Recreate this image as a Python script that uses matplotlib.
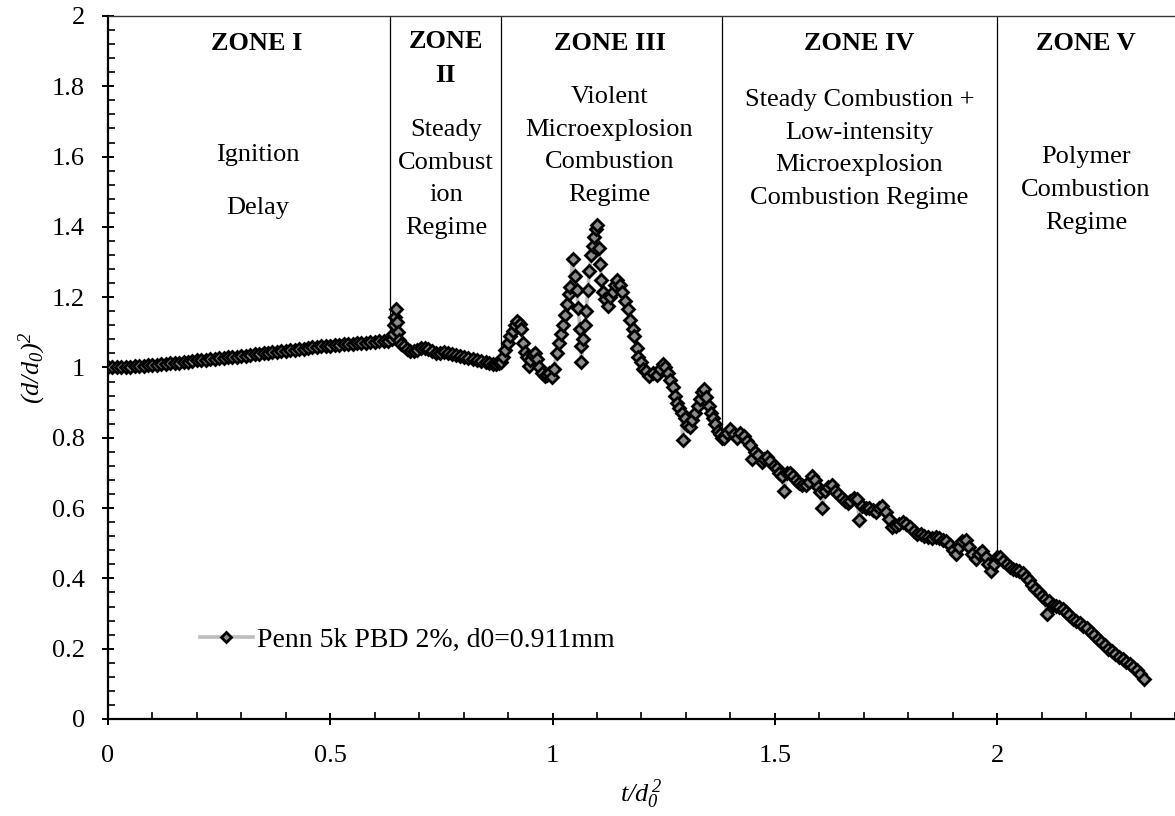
# Droplet diameter history, Penn 5k PBD 2% -- combustion zones I..V
import matplotlib.pyplot as plt
from matplotlib.ticker import FuncFormatter, MultipleLocator

# ── Data ─────────────────────────────────────────────────────────────────────
# Zone I: ignition delay, slow swelling of the droplet
t_zone1 = [
    0.00, 0.01, 0.02, 0.03, 0.04, 0.05, 0.06, 0.07, 0.08, 0.09,
    0.10, 0.11, 0.12, 0.13, 0.14, 0.15, 0.16, 0.17, 0.18, 0.19,
    0.20, 0.21, 0.22, 0.23, 0.24, 0.25, 0.26, 0.27, 0.28, 0.29,
    0.30, 0.31, 0.32, 0.33, 0.34, 0.35, 0.36, 0.37, 0.38, 0.39,
    0.40, 0.41, 0.42, 0.43, 0.44, 0.45, 0.46, 0.47, 0.48, 0.49,
    0.50, 0.51, 0.52, 0.53, 0.54, 0.55, 0.56, 0.57, 0.58, 0.59,
    0.60, 0.61, 0.62, 0.63,
]
d2_zone1 = [
    1.000, 1.000, 1.001, 1.001, 1.002, 1.002, 1.003, 1.004, 1.005, 1.006,
    1.007, 1.008, 1.009, 1.010, 1.012, 1.013, 1.014, 1.016, 1.017, 1.018,
    1.020, 1.021, 1.022, 1.024, 1.025, 1.026, 1.027, 1.029, 1.030, 1.031,
    1.033, 1.034, 1.036, 1.037, 1.039, 1.040, 1.042, 1.043, 1.045, 1.046,
    1.048, 1.049, 1.051, 1.052, 1.054, 1.055, 1.057, 1.058, 1.060, 1.061,
    1.062, 1.064, 1.065, 1.066, 1.067, 1.068, 1.069, 1.070, 1.071, 1.072,
    1.073, 1.074, 1.075, 1.076,
]

# Zone II: steady combustion
t_zone2 = [
    0.638, 0.642, 0.644, 0.646, 0.648, 0.650, 0.652, 0.655, 0.660, 0.666,
    0.672, 0.680, 0.688, 0.696, 0.704, 0.712, 0.720, 0.728, 0.737, 0.746,
    0.755, 0.764, 0.773, 0.782, 0.791, 0.800, 0.810, 0.820, 0.830, 0.840,
    0.850, 0.858, 0.866, 0.873, 0.880,
]
d2_zone2 = [
    1.080, 1.095, 1.120, 1.145, 1.165, 1.130, 1.100, 1.078, 1.068, 1.060,
    1.054, 1.048, 1.046, 1.050, 1.055, 1.056, 1.052, 1.046, 1.042, 1.040,
    1.043, 1.041, 1.038, 1.036, 1.034, 1.031, 1.028, 1.025, 1.021, 1.018,
    1.015, 1.012, 1.010, 1.010, 1.013,
]

# Zone III: violent microexplosion
t_zone3 = [
    0.884, 0.889, 0.894, 0.899, 0.904, 0.910, 0.916, 0.921, 0.926, 0.930,
    0.933, 0.937, 0.942, 0.946, 0.950, 0.955, 0.960, 0.965, 0.970, 0.976,
    0.982, 0.988, 0.993, 0.998, 1.003, 1.009, 1.014, 1.019, 1.024, 1.028,
    1.032, 1.036, 1.040, 1.045, 1.050, 1.054, 1.058, 1.061, 1.063, 1.065,
    1.068, 1.072, 1.076, 1.079, 1.083, 1.087, 1.090, 1.094, 1.098, 1.101,
    1.104, 1.107, 1.110, 1.114, 1.119, 1.124, 1.130, 1.135, 1.141, 1.146,
    1.151, 1.157, 1.163, 1.169, 1.175, 1.180, 1.184, 1.189, 1.193, 1.198,
    1.204, 1.211, 1.218, 1.226, 1.234, 1.241, 1.248, 1.254, 1.260, 1.265,
    1.270, 1.275, 1.280, 1.285, 1.290, 1.293, 1.297, 1.302, 1.308, 1.314,
    1.320, 1.326, 1.331, 1.336, 1.341, 1.346, 1.351, 1.356, 1.361, 1.366,
    1.371, 1.376, 1.381,
]
d2_zone3 = [
    1.015, 1.030, 1.050, 1.070, 1.090, 1.105, 1.120, 1.132, 1.125, 1.110,
    1.070, 1.045, 1.030, 1.005, 1.020, 1.035, 1.040, 1.025, 1.000, 0.985,
    0.975, 0.978, 0.985, 0.972, 0.995, 1.040, 1.070, 1.095, 1.120, 1.150,
    1.180, 1.210, 1.230, 1.310, 1.260, 1.220, 1.170, 1.110, 1.060, 1.015,
    1.080, 1.120, 1.160, 1.220, 1.275, 1.320, 1.345, 1.372, 1.395, 1.405,
    1.340, 1.295, 1.250, 1.215, 1.195, 1.175, 1.200, 1.215, 1.235, 1.248,
    1.235, 1.215, 1.190, 1.165, 1.135, 1.110, 1.090, 1.055, 1.030, 1.015,
    0.995, 0.990, 0.975, 0.985, 0.980, 0.995, 1.010, 1.000, 0.985, 0.965,
    0.945, 0.920, 0.900, 0.885, 0.870, 0.795, 0.855, 0.835, 0.830, 0.850,
    0.870, 0.890, 0.910, 0.930, 0.940, 0.915, 0.890, 0.870, 0.855, 0.840,
    0.820, 0.810, 0.800,
]

# Zone IV: steady combustion + low-intensity microexplosion
t_zone4 = [
    1.386, 1.392, 1.400, 1.408, 1.415, 1.422, 1.430, 1.437, 1.443, 1.449,
    1.455, 1.462, 1.470, 1.476, 1.482, 1.490, 1.497, 1.504, 1.510, 1.517,
    1.521, 1.527, 1.534, 1.541, 1.548, 1.555, 1.562, 1.570, 1.577, 1.584,
    1.590, 1.596, 1.602, 1.607, 1.612, 1.620, 1.628, 1.635, 1.642, 1.650,
    1.657, 1.664, 1.670, 1.678, 1.685, 1.690, 1.696, 1.704, 1.712, 1.720,
    1.728, 1.735, 1.742, 1.750, 1.757, 1.764, 1.772, 1.780, 1.788, 1.796,
    1.804, 1.812, 1.820, 1.828, 1.836, 1.845, 1.854, 1.862, 1.870, 1.878,
    1.886, 1.893, 1.900, 1.908, 1.915, 1.922, 1.930, 1.937, 1.944, 1.952,
    1.960, 1.967, 1.974, 1.980, 1.987, 1.994, 2.000,
]
d2_zone4 = [
    0.800, 0.815, 0.825, 0.810, 0.800, 0.815, 0.805, 0.790, 0.780, 0.740,
    0.760, 0.750, 0.730, 0.740, 0.745, 0.735, 0.720, 0.715, 0.700, 0.690,
    0.650, 0.700, 0.700, 0.690, 0.680, 0.670, 0.665, 0.665, 0.675, 0.690,
    0.680, 0.660, 0.645, 0.600, 0.650, 0.660, 0.665, 0.650, 0.640, 0.630,
    0.620, 0.615, 0.620, 0.630, 0.625, 0.565, 0.605, 0.600, 0.600, 0.595,
    0.590, 0.600, 0.605, 0.590, 0.570, 0.545, 0.550, 0.555, 0.560, 0.555,
    0.545, 0.535, 0.525, 0.525, 0.520, 0.518, 0.515, 0.518, 0.515, 0.510,
    0.505, 0.495, 0.480, 0.470, 0.490, 0.505, 0.510, 0.490, 0.470, 0.455,
    0.470, 0.478, 0.460, 0.440, 0.420, 0.440, 0.460,
]

# Zone V: polymer combustion
t_zone5 = [
    2.007, 2.014, 2.021, 2.028, 2.035, 2.042, 2.050, 2.058, 2.065, 2.072,
    2.079, 2.086, 2.093, 2.100, 2.108, 2.112, 2.117, 2.125, 2.132, 2.140,
    2.148, 2.155, 2.162, 2.170, 2.178, 2.186, 2.194, 2.202, 2.210, 2.218,
    2.226, 2.234, 2.242, 2.250, 2.258, 2.266, 2.274, 2.282, 2.290, 2.298,
    2.306, 2.314, 2.322, 2.330,
]
d2_zone5 = [
    0.460, 0.450, 0.440, 0.432, 0.428, 0.425, 0.420, 0.415, 0.405, 0.395,
    0.380, 0.370, 0.360, 0.350, 0.340, 0.300, 0.335, 0.325, 0.322, 0.318,
    0.314, 0.305, 0.295, 0.285, 0.278, 0.272, 0.265, 0.258, 0.248, 0.238,
    0.228, 0.220, 0.210, 0.200, 0.192, 0.185, 0.176, 0.170, 0.162, 0.156,
    0.148, 0.138, 0.127, 0.115,
]

SERIES_LABEL = "Penn 5k PBD 2%, d0=0.911mm"

# zone boundaries and where each divider meets the curve
zone_edges = [0.634, 0.885, 1.380, 2.000]
zone_edge_floor = [1.078, 1.012, 0.805, 0.460]

zone_titles = ["ZONE I", "ZONE\nII", "ZONE III", "ZONE IV", "ZONE V"]
zone_notes = [
    None,
    "Steady\nCombust\nion\nRegime",
    "Violent\nMicroexplosion\nCombustion\nRegime",
    "Steady Combustion +\nLow-intensity\nMicroexplosion\nCombustion Regime",
    "Polymer\nCombustion\nRegime",
]

# ── Theming ──────────────────────────────────────────────────────────────────
plt.rcParams.update(
    {
        "font.family": "Liberation Serif",
        "font.size": 19,
        "mathtext.fontset": "custom",
        "mathtext.rm": "Liberation Serif:italic",
        "mathtext.it": "Liberation Serif:italic",
        "axes.linewidth": 1.6,
    }
)

LINE_GREY = "#bdbdbd"
FACE_GREY = "#8c8c8c"


def main():
    t = t_zone1 + t_zone2 + t_zone3 + t_zone4 + t_zone5
    d2 = d2_zone1 + d2_zone2 + d2_zone3 + d2_zone4 + d2_zone5

    fig = plt.figure(figsize=(11.75, 8.16), dpi=100)
    ax = fig.add_axes([0.0919, 0.1189, 0.9081, 0.8615])

    # ── Series ───────────────────────────────────────────────────────────────
    ax.plot(
        t,
        d2,
        color=LINE_GREY,
        lw=2.6,
        marker="D",
        markersize=6.5,
        markerfacecolor=FACE_GREY,
        markeredgecolor="black",
        markeredgewidth=2.0,
        label=SERIES_LABEL,
        zorder=3,
    )

    # ── Zone dividers and annotations ────────────────────────────────────────
    ax.vlines(zone_edges, zone_edge_floor, 2.0, colors="black", lw=0.9, zorder=2)

    title_x = [0.335, 0.760, 1.128, 1.690, 2.200]
    title_y = [1.923, 1.878, 1.923, 1.923, 1.923]
    for txt, x, y in zip(zone_titles, title_x, title_y):
        ax.text(x, y, txt, ha="center", va="center", fontweight="bold",
                linespacing=1.62)

    note_y = [None, 1.536, 1.630, 1.621, 1.505]
    for txt, x, y in zip(zone_notes, title_x, note_y):
        if txt is None:
            continue
        ax.text(x, y, txt, ha="center", va="center", linespacing=1.62)

    ax.text(0.337, 1.604, "Ignition", ha="center", va="center")
    ax.text(0.337, 1.453, "Delay", ha="center", va="center")

    # ── Axes ────────────────────────────────────────────────────────────────
    ax.set_xlim(0, 2.4)
    ax.set_ylim(0, 2)
    ax.spines["right"].set_visible(False)
    ax.spines["top"].set_linewidth(1.0)
    ax.spines["top"].set_color("#333333")

    ax.xaxis.set_major_locator(MultipleLocator(0.5))
    ax.xaxis.set_minor_locator(MultipleLocator(0.1))
    ax.yaxis.set_major_locator(MultipleLocator(0.2))
    ax.yaxis.set_minor_locator(MultipleLocator(0.04))
    fmt = FuncFormatter(lambda v, _: f"{v:g}")
    ax.xaxis.set_major_formatter(fmt)
    ax.yaxis.set_major_formatter(fmt)

    ax.tick_params(which="major", direction="inout", length=9, width=1.4,
                   top=False, right=False)
    ax.tick_params(which="minor", direction="in", length=5, width=1.2,
                   top=False, right=False)
    ax.tick_params(axis="x", which="major", pad=14)
    ax.tick_params(axis="y", which="major", pad=12)

    ax.set_xlabel(r"$t/d_0^{\,2}$", fontsize=19, labelpad=8)
    ax.set_ylabel(r"$(d/d_0)^2$", fontsize=19, labelpad=3)

    ax.legend(
        loc="center left",
        bbox_to_anchor=(0.086, 0.112),
        frameon=False,
        fontsize=20,
        handlelength=1.9,
        handletextpad=0.15,
        borderpad=0,
        borderaxespad=0,
        markerscale=0.75,
    )

    fig.savefig("out.png", dpi=100)


if __name__ == "__main__":
    main()
